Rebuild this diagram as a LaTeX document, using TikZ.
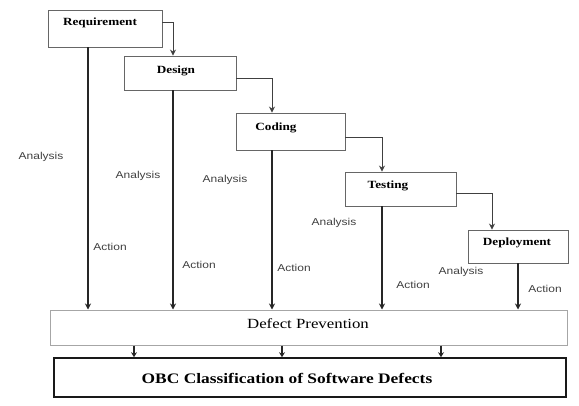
\documentclass[tikz,border=0pt]{standalone}
\usepackage{fontspec}
\setmainfont{Liberation Serif}[FakeStretch=1.2]
\newfontfamily\lblfont{Liberation Sans}[FakeStretch=1.2]
\usetikzlibrary{arrows.meta}
\begin{document}
\begin{tikzpicture}[x=1pt,y=-1pt,
  stage/.style={draw=black!60, line width=0.9pt, inner sep=0pt},
  stagetext/.style={font=\bfseries\fontsize{11}{13}\selectfont, inner sep=0pt},
  lbl/.style={font=\lblfont\fontsize{10}{12}\selectfont, text=black!75, inner sep=0pt},
  flow/.style={draw=black!85, line width=1.5pt, -{Stealth[length=6pt,width=6pt]}},
  stepline/.style={draw=black!75, line width=0.9pt, -{Stealth[length=6pt,width=6pt]}},
  shortarr/.style={draw=black!85, line width=1.5pt, -{Stealth[length=5pt,width=6pt]}}
]
\useasboundingbox (0,0) rectangle (579,405);
% stage boxes
\node[stage, minimum width=114pt, minimum height=37pt] (req) at (105,28.5) {};
\node[stage, minimum width=112pt, minimum height=34pt] (des) at (180,73) {};
\node[stage, minimum width=109pt, minimum height=37pt] (cod) at (290.5,131.5) {};
\node[stage, minimum width=111pt, minimum height=34pt] (tst) at (400.5,189) {};
\node[stage, minimum width=100pt, minimum height=33pt] (dep) at (518,246.5) {};
\node[stagetext] (reqt) at (100,23) {Requirement};
\node[stagetext] (dest) at (176,71) {Design};
\node[stagetext] (codt) at (276,128) {Coding};
\node[stagetext] (tstt) at (388,186) {Testing};
\node[stagetext] (dept) at (517,243) {Deployment};
% bottom boxes
\node[draw=black!35, line width=1pt, minimum width=517pt, minimum height=35pt, inner sep=0pt] (dp) at (308.5,327.5) {};
\node[font=\fontsize{14}{16}\selectfont, inner sep=0pt] (dpt) at (308,324) {Defect Prevention};
\node[draw=black!90, line width=1.6pt, minimum width=512pt, minimum height=39pt, inner sep=0pt] (obc) at (310,377.5) {};
\node[font=\bfseries\fontsize{14.5}{16}\selectfont, inner sep=0pt] (obct) at (287,378) {OBC Classification of Software Defects};
% step connectors
\draw[stepline] ([yshift=6.5pt]req.east) -| ([xshift=-7pt]des.north);
\draw[stepline] ([yshift=-5pt]des.east) -| ([xshift=-18.5pt]cod.north);
\draw[stepline] ([yshift=-5.5pt]cod.east) -| ([xshift=-18.5pt]tst.north);
\draw[stepline] ([yshift=-4pt]tst.east) -| ([xshift=-26pt]dep.north);
% action flows
\draw[flow] ([xshift=-17pt]req.south) coordinate (a1) -- (a1 |- dp.north);
\draw[flow] ([xshift=-7pt]des.south) coordinate (a2) -- (a2 |- dp.north);
\draw[flow] ([xshift=-18.5pt]cod.south) coordinate (a3) -- (a3 |- dp.north);
\draw[flow] ([xshift=-18.5pt]tst.south) coordinate (a4) -- (a4 |- dp.north);
\draw[flow] (dep.south) coordinate (a5) -- (a5 |- dp.north);
% to OBC
\draw[shortarr] ([xshift=-174.5pt]dp.south) coordinate (b1) -- (b1 |- obc.north);
\draw[shortarr] ([xshift=-26.5pt]dp.south) coordinate (b2) -- (b2 |- obc.north);
\draw[shortarr] ([xshift=132.5pt]dp.south) coordinate (b3) -- (b3 |- obc.north);
% labels
\node[lbl] (an1) at (41,157) {Analysis};
\node[lbl] (an2) at (138,176) {Analysis};
\node[lbl] (an3) at (225,180) {Analysis};
\node[lbl] (an4) at (334,223) {Analysis};
\node[lbl] (an5) at (461,272) {Analysis};
\node[lbl] (ac1) at (110,247) {Action};
\node[lbl] (ac2) at (199,265) {Action};
\node[lbl] (ac3) at (294,268) {Action};
\node[lbl] (ac4) at (413,285) {Action};
\node[lbl] (ac5) at (545,289) {Action};
\end{tikzpicture}
\end{document}
